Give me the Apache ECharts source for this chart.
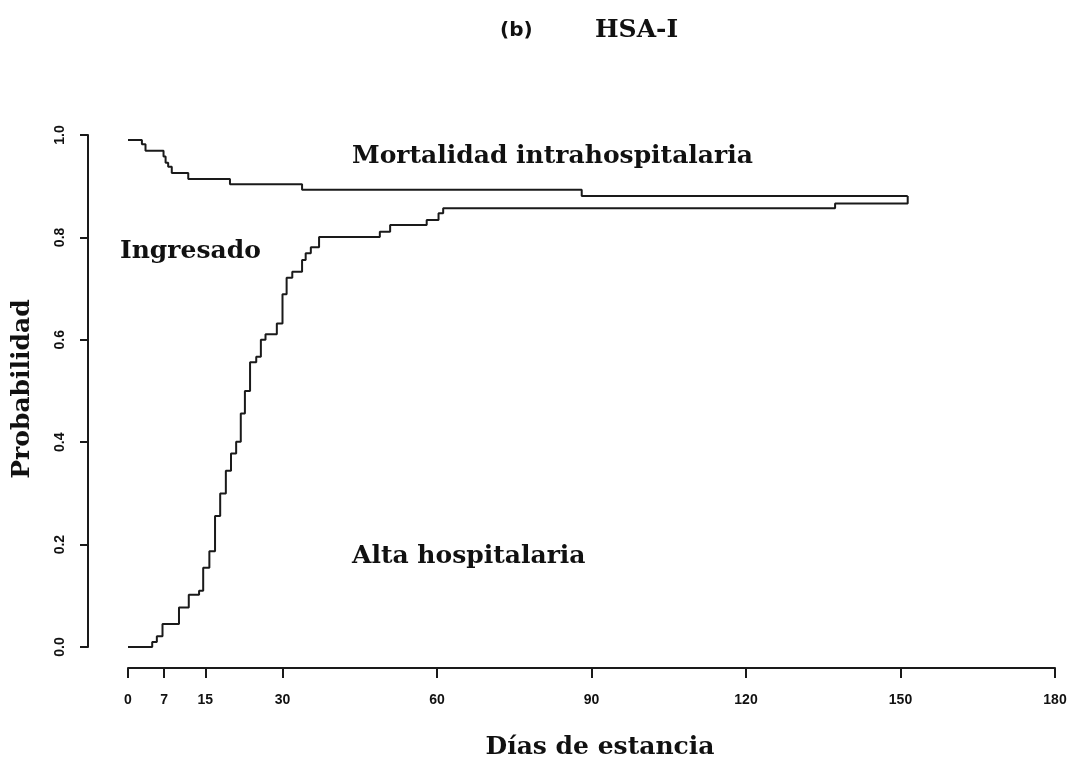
<!DOCTYPE html>
<html>
<head>
<meta charset="utf-8">
<script src="https://cdn.jsdelivr.net/npm/echarts@6/dist/echarts.min.js"></script>
<style>html,body{margin:0;padding:0;background:#fff}#c{width:1077px;height:765px}</style>
</head>
<body>
<div id="c"></div>
<script>
// Upper curve: 1 - cumulative in-hospital mortality
const mortDias = [0, 2.7, 3.4, 6.9, 7.3, 7.8, 8.5, 11.7, 19.8, 33.8, 88.1, 151.4];
const mortProb = [0.990, 0.982, 0.969, 0.958, 0.946, 0.938, 0.926, 0.914, 0.904, 0.893, 0.881, 0.881];
// Lower curve: cumulative hospital discharge
const altaDias = [0, 4.7, 5.6, 6.7, 9.9, 11.8, 13.8, 14.6, 15.8, 16.9, 17.9, 19.0, 20.0, 21.0, 21.9, 22.7, 23.7, 24.9, 25.8, 26.7, 28.9, 30.0, 30.8, 31.9, 33.8, 34.5, 35.5, 37.1, 48.9, 50.9, 58.0, 60.3, 61.2, 137.3, 151.4];
const altaProb = [0, 0.010, 0.021, 0.045, 0.077, 0.102, 0.110, 0.155, 0.187, 0.256, 0.300, 0.344, 0.378, 0.401, 0.456, 0.500, 0.556, 0.567, 0.600, 0.611, 0.632, 0.689, 0.721, 0.733, 0.756, 0.769, 0.781, 0.801, 0.811, 0.824, 0.834, 0.847, 0.857, 0.866, 0.881];
const xTicks = [0, 7, 15, 30, 60, 90, 120, 150, 180];
const yTicks = [0, 0.2, 0.4, 0.6, 0.8, 1.0];

const serif = 'DejaVu Serif';
const sans = 'Liberation Sans';
const chart = echarts.init(document.getElementById('c'));
const lineStyle = {color: '#1a1a1a', width: 2};
function txt(text, x, y, size, align, extra) {
  return Object.assign({type: 'text', x: x, y: y, style: {text: text, fontFamily: serif, fontWeight: 'bold', fontSize: size, fill: '#111', align: align, verticalAlign: 'middle'}}, extra || {});
}
chart.setOption({
  animation: false,
  grid: {left: 128, right: 22, top: 135, bottom: 118},
  xAxis: {
    type: 'value', min: 0, max: 180, offset: 21,
    axisLine: {onZero: false, lineStyle: {color: '#1a1a1a', width: 2}},
    axisTick: {show: true, length: 10, customValues: xTicks, lineStyle: {color: '#1a1a1a', width: 2}},
    axisLabel: {customValues: xTicks, margin: 25, color: '#111', fontFamily: sans, fontWeight: 'bold', fontSize: 14},
    splitLine: {show: false}
  },
  yAxis: {
    type: 'value', min: 0, max: 1, offset: 40,
    axisLine: {show: true, onZero: false, lineStyle: {color: '#1a1a1a', width: 2}},
    axisTick: {show: true, length: 8, customValues: yTicks, lineStyle: {color: '#1a1a1a', width: 2}},
    axisLabel: {customValues: yTicks, rotate: 90, margin: 21, color: '#111', fontFamily: sans, fontWeight: 'bold', fontSize: 14,
      formatter: v => v.toFixed(1)},
    splitLine: {show: false}
  },
  series: [
    {type: 'line', step: 'end', symbol: 'none', lineStyle, data: mortDias.map((d, i) => [d, mortProb[i]])},
    {type: 'line', step: 'end', symbol: 'none', lineStyle, data: altaDias.map((d, i) => [d, altaProb[i]])}
  ],
  graphic: [
    {type: 'text', x: 500, y: 31, style: {text: '(b)', fontFamily: 'DejaVu Sans', fontWeight: 'bold', fontSize: 20, fill: '#111', align: 'left', verticalAlign: 'middle'}},
    txt('HSA-I', 595, 30, 25, 'left'),
    txt('Mortalidad intrahospitalaria', 352, 156, 25, 'left'),
    txt('Ingresado', 120, 251, 25, 'left'),
    txt('Alta hospitalaria', 352, 556, 25, 'left'),
    txt('Probabilidad', 22, 389, 25, 'center', {rotation: Math.PI / 2}),
    txt('Días de estancia', 600, 747, 25, 'center')
  ]
});
</script>
</body>
</html>
